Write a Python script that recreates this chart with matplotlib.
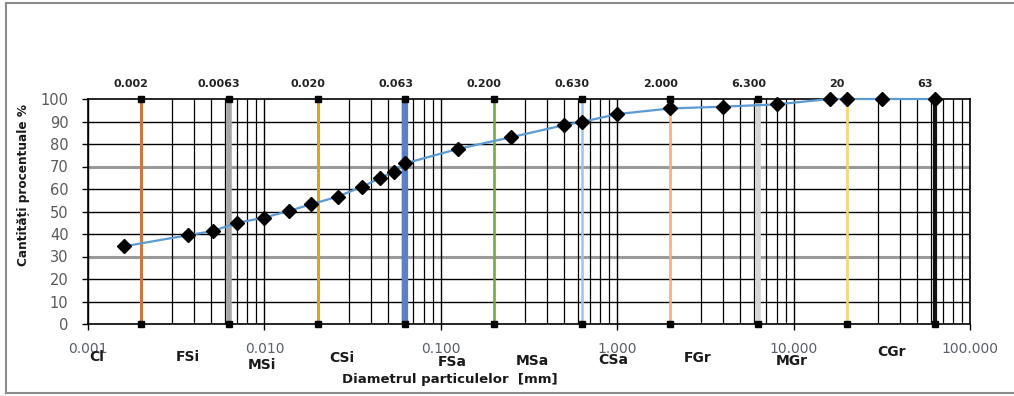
import matplotlib
matplotlib.use("Agg")
import matplotlib.pyplot as plt
from matplotlib.ticker import FixedLocator, FuncFormatter, LogLocator, NullFormatter
from matplotlib.lines import Line2D

# ---- data ----
diam_mm = [0.0016, 0.0037, 0.0051, 0.0070, 0.0099, 0.0137, 0.0184, 0.026, 0.0357,
           0.045, 0.054, 0.063, 0.125, 0.25, 0.5, 0.63, 1.0, 2.0, 4.0, 8.0,
           16.0, 20.0, 31.5, 63.0]
passing_pct = [34.5, 39.5, 41.3, 45.0, 47.2, 50.2, 53.2, 56.6, 61.0,
               64.7, 67.7, 71.4, 77.8, 83.0, 88.4, 89.8, 93.3, 95.8, 96.6, 97.6,
               100.0, 100.0, 100.0, 100.0]

limit_values = [0.002, 0.0063, 0.020, 0.063, 0.200, 0.630, 2.000, 6.300, 20, 63]
limit_labels = ["0.002", "0.0063", "0.020", "0.063", "0.200", "0.630", "2.000", "6.300", "20", "63"]
limit_colors = ["#c8773f", "#a6a6a6", "#d9a520", "#5b80c8", "#70ad47", "#9dc3e6",
                "#f4b183", "#d4d4d4", "#ffd966", "#111111"]
limit_widths = [2.2, 4.0, 2.2, 4.5, 1.8, 1.8, 1.8, 4.0, 1.8, 3.0]

class_labels = ["Cl", "FSi", "MSi", "CSi", "FSa", "MSa", "CSa", "FGr", "MGr", "CGr"]
class_x = [0.00112, 0.00369, 0.0097, 0.0275, 0.1156, 0.329, 0.946, 2.87, 9.8, 36.1]
class_y = [-14.5, -14.7, -18.2, -15.1, -16.8, -16.3, -16.0, -15.0, -16.3, -12.3]

yticks = [0, 10, 20, 30, 40, 50, 60, 70, 80, 90, 100]
xticks = [0.001, 0.01, 0.1, 1, 10, 100]

# ---- figure ----
W, H = 1014, 396
fig = plt.figure(figsize=(W / 100, H / 100), dpi=100)
ax = fig.add_axes([88 / W, 1 - 324 / H, (970 - 88) / W, (324 - 99) / H])

ax.set_xscale("log")
ax.set_xlim(0.001, 100)
ax.set_ylim(0, 100)

# grid
ax.xaxis.set_major_locator(FixedLocator(xticks))
ax.xaxis.set_minor_locator(LogLocator(base=10, subs=range(2, 10), numticks=50))
ax.xaxis.set_minor_formatter(NullFormatter())
ax.xaxis.set_major_formatter(FuncFormatter(lambda v, p: f"{v:.3f}"))
ax.yaxis.set_major_locator(FixedLocator(yticks))
ax.grid(True, which="major", axis="x", color="black", lw=1.0)
ax.grid(True, which="minor", axis="x", color="black", lw=0.9)
for yv in yticks[1:-1]:
    if yv in (30, 70):
        ax.axhline(yv, color="#9a9a9a", lw=2.2, zorder=1)
    else:
        ax.axhline(yv, color="black", lw=1.0, zorder=1)

ax.tick_params(axis="x", which="minor", length=0)
ax.tick_params(axis="x", which="major", length=4, width=1, direction="out",
               labelsize=10, labelcolor="#5a5f6a", pad=9)
ax.tick_params(axis="y", length=4, width=1, direction="out",
               labelsize=10.5, labelcolor="#5a5a5a", pad=10)
for s in ax.spines.values():
    s.set_color("black")
    s.set_linewidth(1.2)

# limit lines
for v, c, w in zip(limit_values, limit_colors, limit_widths):
    ax.plot([v, v], [0, 100], color=c, lw=w, zorder=3, solid_capstyle="butt")
    ax.plot([v, v], [0, 100], ls="none", marker="s", ms=5, color="black", zorder=4, clip_on=False)

for v, lab in zip(limit_values, limit_labels):
    ax.annotate(lab, xy=(v, 100), xytext=(-7, 11), textcoords="offset points",
                ha="center", va="center", fontsize=8, fontweight="bold",
                color="#222222", annotation_clip=False)

# data curve
ax.plot(diam_mm, passing_pct, color="#5b9bd5", lw=1.6, marker="D", ms=7,
        mfc="black", mec="black", zorder=5, clip_on=False)

# class labels
for x, y, lab in zip(class_x, class_y, class_labels):
    ax.text(x, y, lab, ha="center", va="center", fontsize=10, fontweight="bold",
            color="#1a1a1a", clip_on=False)

fig.text(450 / W, 1 - 380 / H, "Diametrul particulelor  [mm]", ha="center", va="center",
         fontsize=9.5, fontweight="bold", color="#1a1a1a")
fig.text(24 / W, 1 - 185 / H, "Cantități procentuale %", ha="center", va="center",
         rotation=90, fontsize=8.7, fontweight="bold", color="#1a1a1a")

# outer frame
frame_kw = dict(color="#8c8c8c", lw=1.5, transform=fig.transFigure)
fig.add_artist(Line2D([6 / W, 6 / W], [1 - 3 / H, 1 - 393 / H], **frame_kw))
fig.add_artist(Line2D([6 / W, 1.0], [1 - 3 / H, 1 - 3 / H], **frame_kw))
fig.add_artist(Line2D([6 / W, 1.0], [1 - 393 / H, 1 - 393 / H], **frame_kw))

fig.savefig("out.png", dpi=100)
